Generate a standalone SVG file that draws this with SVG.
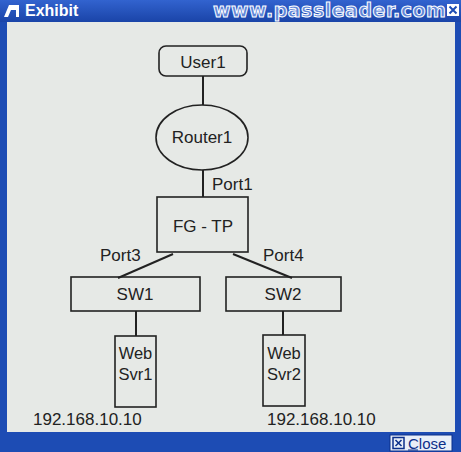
<svg xmlns="http://www.w3.org/2000/svg" width="461" height="452" viewBox="0 0 461 452">
<style>
.n{fill:none;stroke:#222;stroke-width:1.6}
.t{font-family:"Liberation Sans",Arial,sans-serif;font-size:17px;fill:#222}
.w{font-size:16.5px}
.c{stroke:#222;stroke-width:2;fill:none}
</style>
<defs>
<linearGradient id="tb" x1="0" y1="0" x2="0" y2="1">
<stop offset="0" stop-color="#3263cf"/><stop offset="1" stop-color="#1a44a8"/>
</linearGradient>
</defs>
<rect x="0" y="0" width="461" height="452" fill="#1d4cb4"/>
<rect x="0" y="0" width="461" height="22" fill="url(#tb)"/>
<rect x="7" y="22" width="448" height="410" fill="#e6e9e6"/>
<g id="title">
<path d="M4 17 L9 5 L19 5 L19 17 L16 17 L16 10 L11 10 L8 17 Z" fill="#fff"/>
<text x="25" y="16" font-family="Liberation Sans,Arial,sans-serif" font-size="16" font-weight="bold" fill="#fff">Exhibit</text>
<text x="213" y="17" font-family="DejaVu Sans,sans-serif" font-size="19" font-weight="bold" fill="#5f86d8" stroke="#fff" stroke-width="1" letter-spacing="0.5">www.passleader.com</text>
<rect x="447" y="4" width="12" height="12" fill="#fff"/>
<path d="M449.5 6.5 L456.5 13.5 M456.5 6.5 L449.5 13.5" stroke="#1d4cb4" stroke-width="2"/>
</g>
<g id="closebtn">
<rect x="390" y="435" width="62" height="16" fill="#e8eef8" stroke="#0b2f8a"/>
<rect x="393" y="437.5" width="11" height="11" fill="none" stroke="#0b2f8a" stroke-width="1.5"/>
<path d="M395.5 440 L401.5 446 M401.5 440 L395.5 446" stroke="#0b2f8a" stroke-width="1.5"/>
<text x="408" y="449" font-family="Liberation Sans,Arial,sans-serif" font-size="15" fill="#0b2f8a">Close</text>
<line x1="408" y1="450" x2="418" y2="450" stroke="#0b2f8a" stroke-width="1"/>
</g>
<g id="connectors">
<line class="c" x1="203" y1="76" x2="203" y2="105"/>
<line class="c" x1="203" y1="170" x2="203" y2="197"/>
<line class="c" x1="173" y1="254" x2="118" y2="278"/>
<line class="c" x1="233" y1="254" x2="292" y2="278"/>
<line class="c" x1="136" y1="311" x2="136" y2="336"/>
<line class="c" x1="283" y1="311" x2="283" y2="335"/>
<text class="t" x="212" y="190">Port1</text>
<text class="t" x="100" y="261">Port3</text>
<text class="t" x="263" y="261">Port4</text>
</g>
<g id="User1">
<rect class="n" x="159" y="46" width="88" height="30" rx="7"/>
<text class="t" x="203" y="68" text-anchor="middle">User1</text>
</g>
<g id="Router1">
<ellipse class="n" cx="202" cy="137.5" rx="46" ry="32.5"/>
<text class="t" x="202" y="143" text-anchor="middle" font-size="13.5">Router1</text>
</g>
<g id="FG-TP">
<rect class="n" x="157" y="197" width="91" height="55"/>
<text class="t" x="203" y="232" text-anchor="middle">FG - TP</text>
</g>
<g id="SW1">
<rect class="n" x="71" y="277" width="129" height="34"/>
<text class="t" x="135" y="300" text-anchor="middle">SW1</text>
</g>
<g id="SW2">
<rect class="n" x="226" y="277" width="115" height="34"/>
<text class="t" x="283" y="300" text-anchor="middle">SW2</text>
</g>
<g id="WebSvr1">
<rect class="n" x="115" y="336" width="41" height="71"/>
<text class="t w" x="135.5" y="359" text-anchor="middle">Web</text>
<text class="t w" x="135.5" y="380" text-anchor="middle">Svr1</text>
</g>
<g id="WebSvr2">
<rect class="n" x="263" y="335" width="42" height="71"/>
<text class="t w" x="284" y="359" text-anchor="middle">Web</text>
<text class="t w" x="284" y="380" text-anchor="middle">Svr2</text>
</g>
<text class="t" x="33" y="425" font-size="18">192.168.10.10</text>
<text class="t" x="267" y="425" font-size="18">192.168.10.10</text>
</svg>
